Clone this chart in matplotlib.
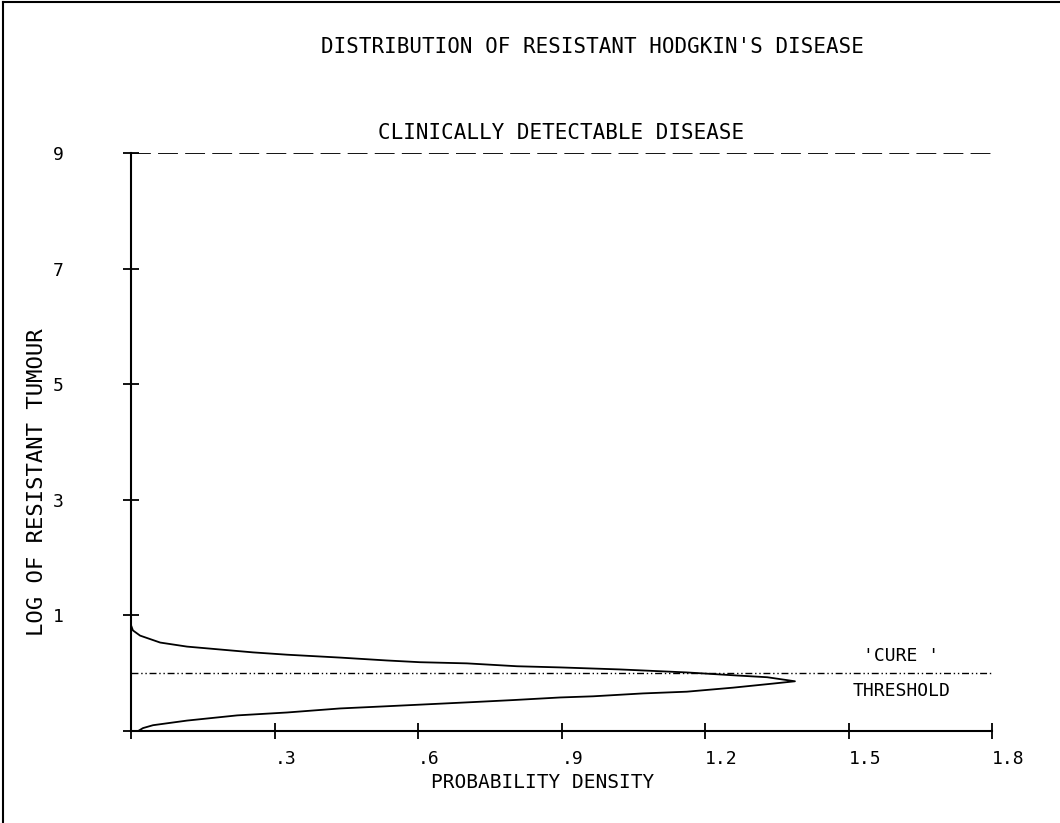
import numpy as np
import matplotlib
matplotlib.use('Agg')
import matplotlib.pyplot as plt
from matplotlib.lines import Line2D

# Curve: log size (y) and density (x), bottom -> peak -> top
log_size = [-1.0, -0.95, -0.90, -0.82, -0.73, -0.68, -0.61, -0.575, -0.50, -0.465,
            -0.42, -0.40, -0.35, -0.32, -0.25, -0.18, -0.14,
            -0.07, -0.04, 0.013, 0.065, 0.10, 0.12, 0.17, 0.19, 0.22, 0.27,
            0.32, 0.36, 0.41, 0.46, 0.53, 0.65, 0.74, 0.83, 0.88]
density = [0.015, 0.025, 0.046, 0.117, 0.222, 0.326, 0.437, 0.527, 0.715, 0.799,
           0.897, 0.966, 1.070, 1.162, 1.259, 1.342, 1.388,
           1.330, 1.267, 1.162, 1.022, 0.897, 0.807, 0.702, 0.604, 0.535, 0.437,
           0.326, 0.255, 0.186, 0.117, 0.061, 0.019, 0.004, 0.0, 0.0]

detectable = 9
threshold = 0
yticks = [-1, 1, 3, 5, 7, 9]
ytick_labels = ['', '1', '3', '5', '7', '9']
xticks = [0, 0.3, 0.6, 0.9, 1.2, 1.5, 1.8]
xtick_labels = ['', '.3', '.6', '.9', '1.2', '1.5', '1.8']

plt.rcParams['font.family'] = 'DejaVu Sans Mono'

fig = plt.figure(figsize=(10.6, 8.23), dpi=100)
ax = fig.add_axes([0.1236, 0.1118, 0.8123, 0.7023])

ax.plot(density, log_size, color='black', lw=1.3)
ax.plot([0, 1.8], [detectable, detectable], color='black', lw=1.3, dashes=(11, 4))
ax.plot([0, 1.8], [threshold, threshold], color='black', lw=1.0, dashes=(5, 2, 1, 2, 1, 2))

ax.set_xlim(0, 1.8)
ax.set_ylim(-1, 9)
for s in ['top', 'right']:
    ax.spines[s].set_visible(False)
for s in ['left', 'bottom']:
    ax.spines[s].set_linewidth(1.5)

ax.set_yticks(yticks)
ax.set_yticklabels(ytick_labels)
ax.set_xticks(xticks)
ax.set_xticklabels(xtick_labels, ha='left')
ax.tick_params(axis='y', direction='inout', length=11, width=1.3, pad=43, labelsize=13)
ax.tick_params(axis='x', direction='inout', length=11, width=1.3, pad=8, labelsize=13)

ax.text(0.9, 9.35, 'CLINICALLY DETECTABLE DISEASE', ha='center', va='center', fontsize=15)
ax.text(1.61, 0.3, "'CURE '", ha='center', va='center', fontsize=13)
ax.text(1.61, -0.3, 'THRESHOLD', ha='center', va='center', fontsize=13)

fig.text(592 / 1060, 1 - 47 / 823, "DISTRIBUTION OF RESISTANT HODGKIN'S DISEASE",
         ha='center', va='center', fontsize=15)
fig.text(543 / 1060, 1 - 783 / 823, 'PROBABILITY DENSITY', ha='center', va='center', fontsize=14)
fig.text(37 / 1060, 1 - 482 / 823, 'LOG OF RESISTANT TUMOUR', ha='center', va='center',
         rotation=90, fontsize=16)

# outer frame, left and top only
fig.add_artist(Line2D([0.003, 0.003], [0, 0.997], color='black', lw=1.5))
fig.add_artist(Line2D([0.003, 1.0], [0.997, 0.997], color='black', lw=1.5))

fig.savefig('out.png', dpi=100)
